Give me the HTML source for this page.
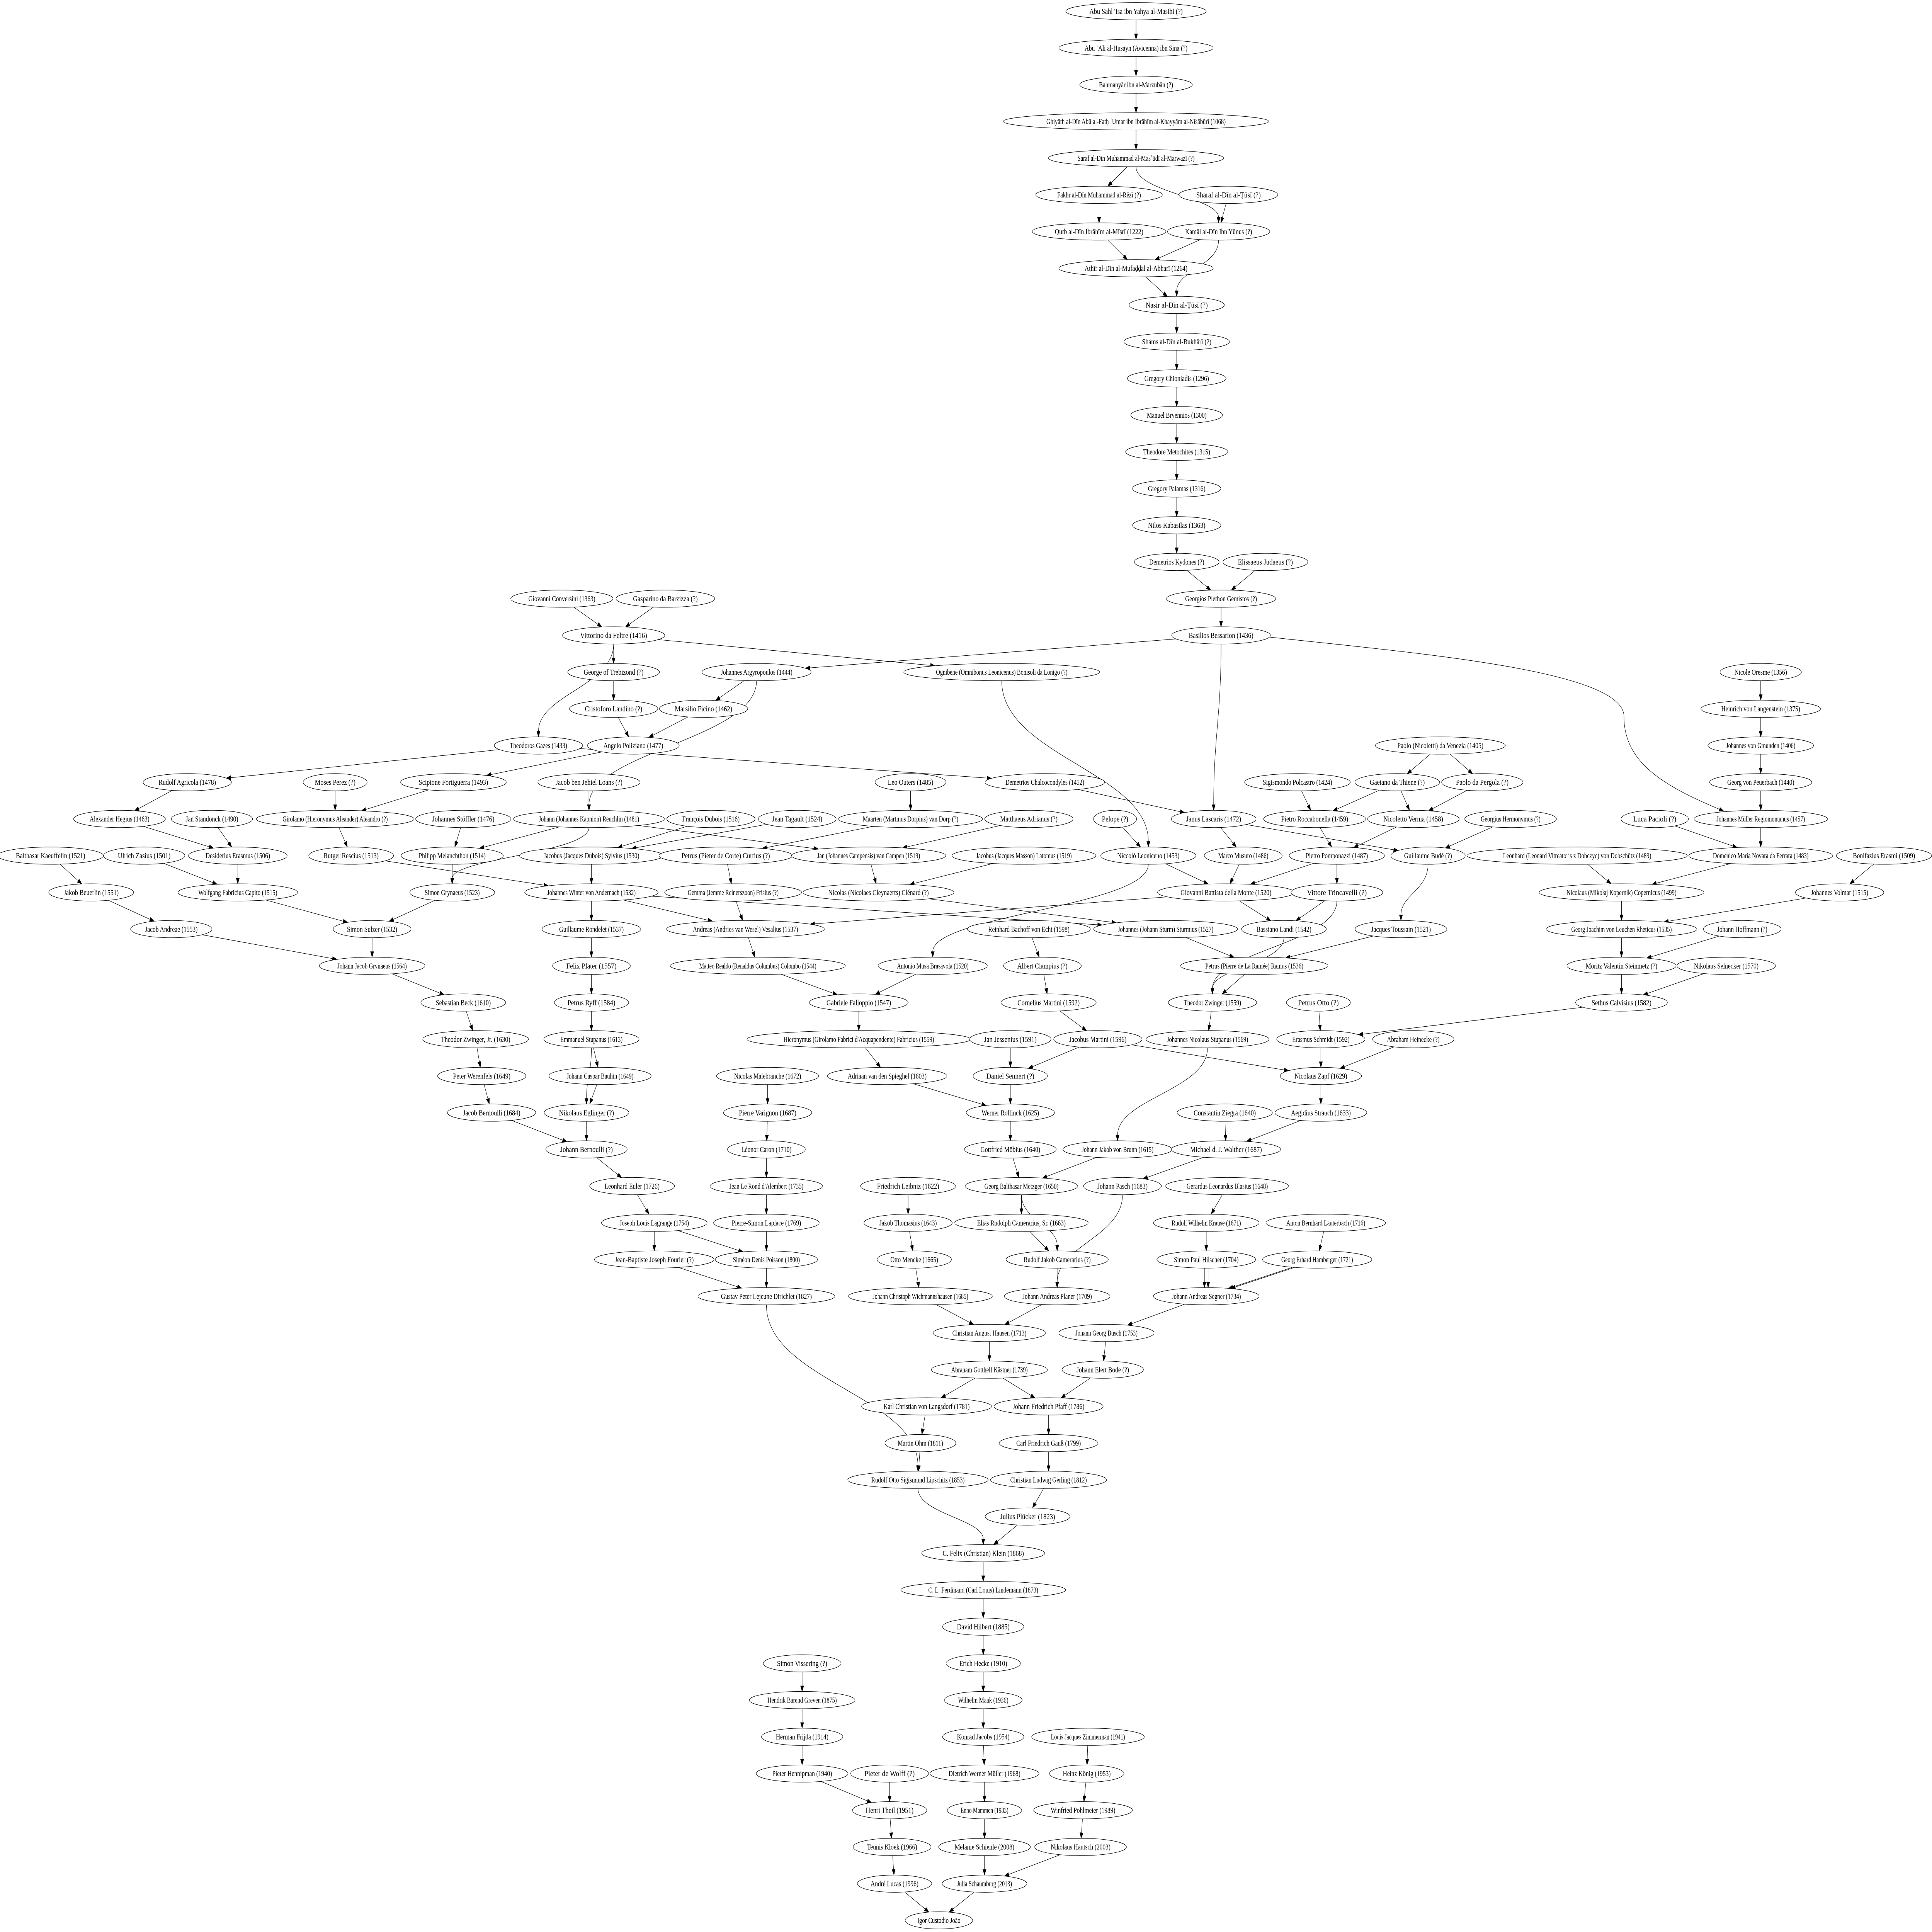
<!DOCTYPE html>
<html><head><meta charset="utf-8"><style>
html,body{margin:0;padding:0;background:#fff;width:100vw;height:100vh;overflow:hidden;}
svg{display:block;position:absolute;left:0;top:0;width:100vw;height:100vh;}
text{font-family:"Liberation Serif","DejaVu Serif",serif;font-size:5px;fill:#000;}
</style></head><body>
<svg xmlns="http://www.w3.org/2000/svg" viewBox="0 0 1568 1254" preserveAspectRatio="none"><rect width="1568" height="1254" fill="#fff"/><g id="g"></g></svg>
<script>
const N={};
function n(id,r,x,label){N[id]={r:r,x:x,y:7.3+r*23.83,label:label};}
n('abu',0,922,"Abu Sahl 'Isa  ibn Yahya al-Masihi  (?)");
n('avi',1,922,"Abu ʿAli al-Husayn (Avicenna) ibn Sina  (?)");
n('bah',2,922,"Bahmanyār  ibn al-Marzubān  (?)");
n('ghi',3,922,"Ghiyāth al-Dīn Abū al-Fatḥ ʿUmar ibn Ibrāhīm al-Khayyām al-Nīsābūrī  (1068)");
n('sar',4,922,"Saraf al-Dīn Muhammad  al-Masʿūdī al-Marwazī  (?)");
n('fak',5,892,"Fakhr al-Dīn Muhammad  al-Rēzī  (?)");
n('shr',5,997,"Sharaf al-Dīn  al-Ṭūsī  (?)");
n('qut',6,892,"Qutb al-Dīn  Ibrāhīm al-Mīṣrī  (1222)");
n('kam',6,989,"Kamāl al-Dīn  Ibn Yūnus  (?)");
n('ath',7,922,"Athīr al-Dīn  al-Mufaḍḍal al-Abharī  (1264)");
n('nas',8,955,"Nasir al-Dīn  al-Ṭūsī  (?)");
n('sha',9,955,"Shams al-Dīn  al-Bukhārī  (?)");
n('gch',10,955,"Gregory  Chioniadis  (1296)");
n('man',11,955,"Manuel  Bryennios  (1300)");
n('thm',12,955,"Theodore  Metochites  (1315)");
n('gpa',13,955,"Gregory  Palamas  (1316)");
n('nil',14,955,"Nilos  Kabasilas  (1363)");
n('dky',15,955,"Demetrios  Kydones  (?)");
n('eli',15,1027,"Elissaeus  Judaeus  (?)");
n('ple',16,991,"Georgios Plethon Gemistos  (?)");
n('gco',16,456,"Giovanni  Conversini  (1363)");
n('gas',16,540,"Gasparino  da Barzizza  (?)");
n('vit',17,498,"Vittorino  da Feltre  (1416)");
n('bes',17,991,"Basilios  Bessarion  (1436)");
n('geo',18,498,"George  of Trebizond  (?)");
n('arg',18,614,"Johannes  Argyropoulos  (1444)");
n('ogn',18,813,"Ognibene (Omnibonus Leonicenus) Bonisoli da Lonigo  (?)");
n('ore',18,1429,"Nicole  Oresme  (1356)");
n('cri',19,498,"Cristoforo  Landino  (?)");
n('fic',19,571,"Marsilio  Ficino  (1462)");
n('hei',19,1429,"Heinrich  von Langenstein  (1375)");
n('gaz',20,437,"Theodoros  Gazes  (1433)");
n('pol',20,514,"Angelo  Poliziano  (1477)");
n('pven',20,1169,"Paolo (Nicoletti) da Venezia  (1405)");
n('gmu',20,1429,"Johannes  von Gmunden  (1406)");
n('agr',21,152,"Rudolf  Agricola  (1478)");
n('mos',21,272,"Moses  Perez  (?)");
n('sci',21,368,"Scipione  Fortiguerra  (1493)");
n('jbj',21,478,"Jacob ben Jehiel  Loans  (?)");
n('leo',21,739,"Leo  Outers  (1485)");
n('dch',21,848,"Demetrios  Chalcocondyles  (1452)");
n('sig',21,1053,"Sigismondo  Polcastro  (1424)");
n('gae',21,1134,"Gaetano  da Thiene  (?)");
n('ppe',21,1203,"Paolo  da Pergola  (?)");
n('peu',21,1429,"Georg  von Peuerbach  (1440)");
n('heg',22,97,"Alexander  Hegius  (1463)");
n('sta',22,172,"Jan  Standonck  (1490)");
n('ale',22,272,"Girolamo (Hieronymus Aleander) Aleandro  (?)");
n('sto',22,376,"Johannes  Stöffler  (1476)");
n('reu',22,478,"Johann (Johannes Kapnion) Reuchlin  (1481)");
n('dub',22,577,"François  Dubois  (1516)");
n('tag',22,647,"Jean  Tagault  (1524)");
n('dor',22,739,"Maarten (Martinus Dorpius) van Dorp  (?)");
n('adr',22,835,"Matthaeus  Adrianus  (?)");
n('pel',22,905,"Pelope  (?)");
n('las',22,985,"Janus  Lascaris  (1472)");
n('roc',22,1067,"Pietro  Roccabonella  (1459)");
n('ver',22,1147,"Nicoletto  Vernia  (1458)");
n('her',22,1226,"Georgius  Hermonymus  (?)");
n('pac',22,1343,"Luca  Pacioli  (?)");
n('reg',22,1429,"Johannes Müller Regiomontanus  (1457)");
n('kae',23,41,"Balthasar  Kaeuffelin  (1521)");
n('zas',23,117,"Ulrich  Zasius  (1501)");
n('era',23,193,"Desiderius  Erasmus  (1506)");
n('res',23,285,"Rutger  Rescius  (1513)");
n('mel',23,367,"Philipp  Melanchthon  (1514)");
n('syl',23,480,"Jacobus (Jacques Dubois) Sylvius  (1530)");
n('cur',23,589,"Petrus (Pieter de Corte) Curtius  (?)");
n('cam',23,705,"Jan (Johannes Campensis) van Campen  (1519)");
n('lat',23,831,"Jacobus (Jacques Masson) Latomus  (1519)");
n('nle',23,932,"Niccolò  Leoniceno  (1453)");
n('mus',23,1009,"Marco  Musuro  (1486)");
n('pom',23,1085,"Pietro  Pomponazzi  (1487)");
n('bud',23,1159,"Guillaume  Budé  (?)");
n('dob',23,1280,"Leonhard (Leonard Vitreatoris z Dobczyc) von Dobschütz  (1489)");
n('nov',23,1429,"Domenico Maria Novara da Ferrara  (1483)");
n('bon',23,1529,"Bonifazius  Erasmi  (1509)");
n('beu',24,74,"Jakob  Beuerlin  (1551)");
n('cap',24,193,"Wolfgang Fabricius Capito  (1515)");
n('sgr',24,367,"Simon  Grynaeus  (1523)");
n('win',24,480,"Johannes Winter von Andernach  (1532)");
n('gem',24,595,"Gemma (Jemme Reinerszoon) Frisius  (?)");
n('cle',24,713,"Nicolas (Nicolaes Cleynaerts) Clénard  (?)");
n('mon',24,995,"Giovanni Battista  della Monte  (1520)");
n('tri',24,1085,"Vittore  Trincavelli  (?)");
n('cop',24,1316,"Nicolaus (Mikołaj Kopernik) Copernicus  (1499)");
n('vol',24,1493,"Johannes  Volmar  (1515)");
n('and',25,139,"Jacob  Andreae  (1553)");
n('sul',25,302,"Simon  Sulzer  (1532)");
n('ron',25,480,"Guillaume  Rondelet  (1537)");
n('ves',25,605,"Andreas (Andries van Wesel) Vesalius  (1537)");
n('bac',25,835,"Reinhard  Bachoff von Echt  (1598)");
n('stu',25,946,"Johannes (Johann Sturm) Sturmius  (1527)");
n('lan',25,1042,"Bassiano  Landi  (1542)");
n('tou',25,1137,"Jacques  Toussain  (1521)");
n('rhe',25,1316,"Georg Joachim von Leuchen Rheticus  (1535)");
n('hof',25,1414,"Johann  Hoffmann  (?)");
n('jjg',26,302,"Johann Jacob Grynaeus  (1564)");
n('pla',26,480,"Felix  Plater  (1557)");
n('col',26,615,"Matteo Realdo (Renaldus Columbus) Colombo  (1544)");
n('bra',26,757,"Antonio Musa Brasavola  (1520)");
n('cla',26,846,"Albert  Clampius  (?)");
n('ram',26,1018,"Petrus (Pierre de La Ramée) Ramus  (1536)");
n('ste',26,1316,"Moritz Valentin Steinmetz  (?)");
n('sel',26,1401,"Nikolaus  Selnecker  (1570)");
n('bec',27,376,"Sebastian  Beck  (1610)");
n('ryf',27,480,"Petrus  Ryff  (1584)");
n('fal',27,697,"Gabriele  Falloppio  (1547)");
n('cma',27,851,"Cornelius  Martini  (1592)");
n('zwi',27,984,"Theodor  Zwinger  (1559)");
n('ott',27,1070,"Petrus  Otto  (?)");
n('cal',27,1316,"Sethus  Calvisius  (1582)");
n('zwj',28,386,"Theodor  Zwinger, Jr.  (1630)");
n('est',28,480,"Emmanuel  Stupanus  (1613)");
n('fab',28,697,"Hieronymus (Girolamo Fabrici d'Acquapendente) Fabricius  (1559)");
n('jes',28,820,"Jan  Jessenius  (1591)");
n('jma',28,891,"Jacobus  Martini  (1596)");
n('jns',28,980,"Johannes Nicolaus Stupanus  (1569)");
n('sch',28,1072,"Erasmus  Schmidt  (1592)");
n('hei2',28,1147,"Abraham  Heinecke  (?)");
n('wer',29,391,"Peter  Werenfels  (1649)");
n('bau',29,487,"Johann Caspar Bauhin  (1649)");
n('mal',29,623,"Nicolas  Malebranche  (1672)");
n('spi',29,720,"Adriaan  van den Spieghel  (1603)");
n('sen',29,820,"Daniel  Sennert  (?)");
n('zap',29,1072,"Nicolaus  Zapf  (1629)");
n('jbe',30,399,"Jacob  Bernoulli  (1684)");
n('egl',30,476,"Nikolaus  Eglinger  (?)");
n('var',30,623,"Pierre  Varignon  (1687)");
n('rol',30,820,"Werner  Rolfinck  (1625)");
n('zie',30,994,"Constantin  Ziegra  (1640)");
n('str',30,1072,"Aegidius  Strauch  (1633)");
n('job',31,476,"Johann  Bernoulli  (?)");
n('car',31,622,"Léonor  Caron  (1710)");
n('mob',31,820,"Gottfried  Möbius  (1640)");
n('bru',31,907,"Johann Jakob von Brunn  (1615)");
n('wal',31,995,"Michael d. J.  Walther  (1687)");
n('eul',32,513,"Leonhard  Euler  (1726)");
n('dal',32,622,"Jean Le Rond d'Alembert  (1735)");
n('lei',32,737,"Friedrich  Leibniz  (1622)");
n('met',32,829,"Georg Balthasar Metzger  (1650)");
n('pas',32,911,"Johann  Pasch  (1683)");
n('bla',32,996,"Gerardus Leonardus Blasius  (1648)");
n('lag',33,531,"Joseph Louis Lagrange  (1754)");
n('lap',33,622,"Pierre-Simon  Laplace  (1769)");
n('tho',33,737,"Jakob  Thomasius  (1643)");
n('eca',33,829,"Elias Rudolph Camerarius, Sr.  (1663)");
n('kra',33,979,"Rudolf Wilhelm Krause  (1671)");
n('lau',33,1076,"Anton Bernhard Lauterbach  (1716)");
n('fou',34,531,"Jean-Baptiste Joseph Fourier  (?)");
n('poi',34,622,"Siméon Denis Poisson  (1800)");
n('men',34,742,"Otto  Mencke  (1665)");
n('rca',34,858,"Rudolf Jakob Camerarius  (?)");
n('hil',34,979,"Simon Paul Hilscher  (1704)");
n('ham',34,1069,"Georg Erhard Hamberger  (1721)");
n('dir',35,622,"Gustav Peter Lejeune Dirichlet  (1827)");
n('wic',35,747,"Johann Christoph Wichmannshausen  (1685)");
n('pln',35,858,"Johann Andreas Planer  (1709)");
n('seg',35,979,"Johann Andreas Segner  (1734)");
n('hau',36,803,"Christian August Hausen  (1713)");
n('bus',36,898,"Johann Georg Büsch  (1753)");
n('kae2',37,803,"Abraham Gotthelf Kästner  (1739)");
n('bod',37,895,"Johann Elert Bode  (?)");
n('lng',38,752,"Karl Christian von Langsdorf  (1781)");
n('pfa',38,851,"Johann Friedrich Pfaff  (1786)");
n('ohm',39,747,"Martin  Ohm  (1811)");
n('gau',39,851,"Carl Friedrich Gauß  (1799)");
n('lip',40,745,"Rudolf Otto Sigismund Lipschitz  (1853)");
n('ger',40,851,"Christian Ludwig Gerling  (1812)");
n('plu',41,834,"Julius  Plücker  (1823)");
n('kle',42,798,"C. Felix (Christian) Klein  (1868)");
n('lin',43,798,"C. L. Ferdinand (Carl Louis) Lindemann  (1873)");
n('hlb',44,798,"David  Hilbert  (1885)");
n('vis',45,651,"Simon  Vissering  (?)");
n('hec',45,798,"Erich  Hecke  (1910)");
n('gre',46,651,"Hendrik Barend Greven  (1875)");
n('maa',46,798,"Wilhelm  Maak  (1936)");
n('fri',47,651,"Herman  Frijda  (1914)");
n('jac',47,798,"Konrad  Jacobs  (1954)");
n('zim',47,883,"Louis Jacques Zimmerman  (1941)");
n('hen',48,651,"Pieter  Hennipman  (1940)");
n('wol',48,722,"Pieter  de Wolff  (?)");
n('mul',48,799,"Dietrich Werner Müller  (1968)");
n('kon',48,882,"Heinz  König  (1953)");
n('the',49,722,"Henri  Theil  (1951)");
n('mam',49,799,"Enno  Mammen  (1983)");
n('poh',49,879,"Winfried  Pohlmeier  (1989)");
n('klo',50,724,"Teunis  Kloek  (1966)");
n('sci2',50,799,"Melanie  Schienle  (2008)");
n('hat',50,877,"Nikolaus  Hautsch  (2003)");
n('luc',51,726,"André  Lucas  (1996)");
n('sau',51,799,"Julia Schaumburg (2013)");
n('igo',52,762,"Igor Custodio João");

const RY=5.6, CW=2.0;
for(const k in N){const o=N[k];o.w=Array.from(o.label).length*CW;o.rx=o.w/2*1.41+2;}
let out='';
function bpt(o,dx,dy){const k=1/Math.sqrt((dx/o.rx)**2+(dy/RY)**2);return [o.x+k*dx,o.y+k*dy];}
function arrow(p,d){const L=3.6,W=1.3;const l=Math.hypot(d[0],d[1]);const ux=d[0]/l,uy=d[1]/l;
 const bx=p[0]-ux*L,by=p[1]-uy*L;
 out+=`<polygon points="${p[0].toFixed(2)},${p[1].toFixed(2)} ${(bx-uy*W).toFixed(2)},${(by+ux*W).toFixed(2)} ${(bx+uy*W).toFixed(2)},${(by-ux*W).toFixed(2)}" fill="#000" stroke="#000" stroke-width="0.25"/>`;
 return [bx,by];}
function e(a,b,off){off=off||0;const s=N[a],t=N[b];const dr=t.r-s.r;
 if(dr<=1){let p=bpt(s,t.x-s.x,t.y-s.y),q=bpt(t,s.x-t.x,s.y-t.y);p[0]+=off;q[0]+=off;
  const bb=arrow(q,[q[0]-p[0],q[1]-p[1]]);
  out+=`<path d="M${p[0].toFixed(2)},${p[1].toFixed(2)}L${bb[0].toFixed(2)},${bb[1].toFixed(2)}" fill="none" stroke="#000" stroke-width="0.3"/>`;}
 else{const sx=s.x+off,sy=s.y+RY,ex=t.x+off,ey=t.y-RY;const h=(ey-sy)*0.45;
  const c1=[sx,sy+h],c2=[ex,ey-h];const bb=arrow([ex,ey],[0,1]);
  out+=`<path d="M${sx.toFixed(2)},${sy.toFixed(2)}C${c1[0].toFixed(2)},${c1[1].toFixed(2)} ${c2[0].toFixed(2)},${c2[1].toFixed(2)} ${bb[0].toFixed(2)},${bb[1].toFixed(2)}" fill="none" stroke="#000" stroke-width="0.3"/>`;}}
function custom(d,tip,dir){const bb=arrow(tip,dir);out+=`<path d="${d} ${bb[0].toFixed(2)},${bb[1].toFixed(2)}" fill="none" stroke="#000" stroke-width="0.3"/>`;}
const E=`abu avi;avi bah;bah ghi;ghi sar;sar fak;sar kam;shr kam;fak qut;qut ath;kam ath;ath nas;kam nas;nas sha;sha gch;gch man;man thm;thm gpa;gpa nil;nil dky;dky ple;eli ple;ple bes;
bes arg;bes las;gco vit;gas vit;vit geo;vit gaz;vit ogn;geo cri;cri pol;fic pol;arg fic;arg reu;ogn nle;gaz agr;gaz dch;pol sci;dch las;agr heg;mos ale;sci ale;jbj reu;heg era;sta era;ale res;sto mel;reu mel;reu sgr;reu cam;dub syl;tag syl;
leo dor;dor cur;adr cam;pel nle;las mus;las bud;sig roc;gae roc;gae ver;ppe ver;pven gae;pven ppe;roc pom;ver pom;her bud;pac nov;reg nov;ore hei;hei gmu;gmu peu;peu reg;
res win;mel sgr;syl win;era cap;zas cap;kae beu;beu and;cap sul;sgr sul;sul jjg;and jjg;jjg bec;bec zwj;zwj wer;wer jbe;jbe job;win ron;ron pla;pla ryf;ryf est;est bau;bau egl;est egl;egl job;
win ves;win stu;cur gem;gem ves;cam cle;lat cle;cle stu;nle mon;nle bra;mus mon;pom mon;pom tri;mon ves;mon lan;tri lan;tri zwi;bud tou;tou ram;stu ram;lan zwi;ram zwi;ves col;col fal;bra fal;fal fab;fab spi;spi rol;
bac cla;cla cma;cma jma;jma sen;jes sen;sen rol;jma zap;zwi jns;jns bru;ott sch;sch zap;hei2 zap;cal sch;zap str;str wal;zie wal;dob cop;nov cop;cop rhe;bon vol;vol rhe;rhe ste;hof ste;ste cal;sel cal;
mal var;var car;car dal;dal lap;lap poi;poi dir;job eul;eul lag;lag fou;lag poi;fou dir;dir lip;rol mob;mob met;bru met;wal pas;met eca;met rca;eca rca;rca pln;pas pln;lei tho;tho men;men wic;wic hau;pln hau;
bla kra;kra hil;lau ham;seg bus;bus bod;hau kae2;kae2 lng;kae2 pfa;bod pfa;lng ohm;ohm lip;pfa gau;gau ger;ger plu;lip kle;plu kle;kle lin;lin hlb;hlb hec;hec maa;maa jac;jac mul;mul mam;mam sci2;sci2 sau;sau igo;
vis gre;gre fri;fri hen;hen the;wol the;the klo;klo luc;luc igo;zim kon;kon poh;poh hat;hat sau`;
E.split(';').forEach(s=>{const p=s.trim().split(/\s+/);if(p.length==2)e(p[0],p[1]);});
e('hil','seg',-1.5);e('hil','seg',1.5);e('ham','seg',-1);e('ham','seg',1);
{const s=N.bes,t=N.reg;const sx=s.x+s.rx-2,sy=s.y+1;const ex=t.x-30,ey=t.y-RY+0.5;
 custom(`M${sx},${sy} C1150,424 1318,435 1318,465 C1318,495 1350,510`,[ex,ey],[ex-1350,ey-510]);}
for(const k in N){const o=N[k];
 out+=`<ellipse cx="${o.x}" cy="${o.y.toFixed(2)}" rx="${o.rx.toFixed(2)}" ry="${RY}" fill="#fff" stroke="#000" stroke-width="0.3"/>`;
 out+=`<text x="${o.x}" y="${(o.y+1.7).toFixed(2)}" text-anchor="middle" textLength="${(o.w*0.97).toFixed(2)}" lengthAdjust="spacingAndGlyphs">${o.label.replace(/&/g,'&amp;').replace(/</g,'&lt;')}</text>`;}
document.getElementById('g').innerHTML=out;
</script>
</body></html>
